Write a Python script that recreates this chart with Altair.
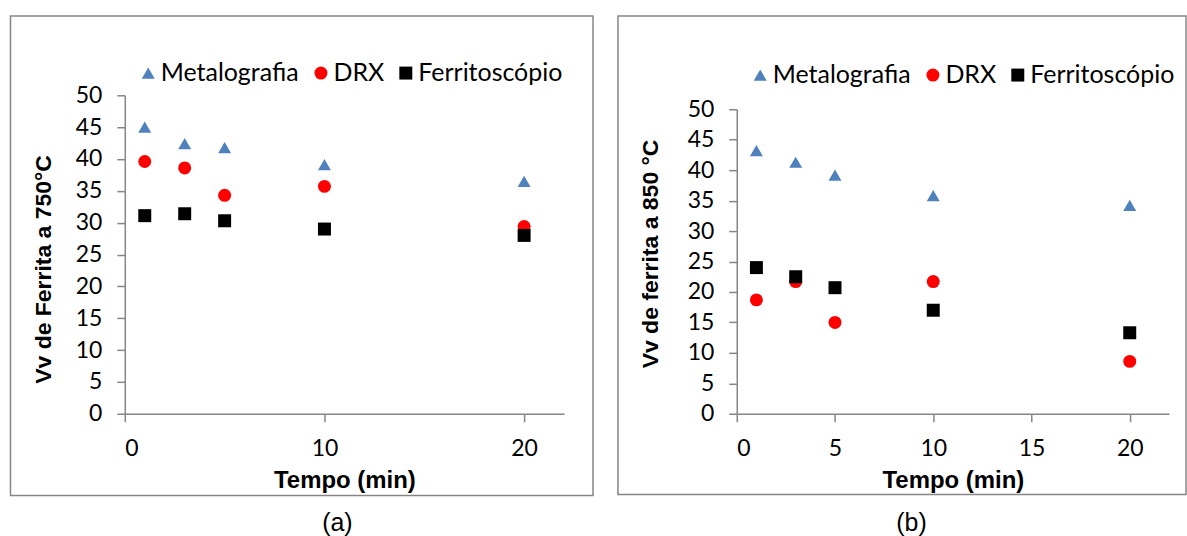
import altair as alt
import pandas as pd

# ---- data ----
times = [1, 3, 5, 10, 20]
series_names = ["Metalografia", "DRX", "Ferritoscópio"]

left_metalografia = [45.0, 42.4, 41.8, 39.1, 36.5]
left_drx = [39.6, 38.6, 34.3, 35.7, 29.4]
left_ferritoscopio = [31.1, 31.4, 30.3, 29.0, 28.0]

right_metalografia = [43.2, 41.3, 39.2, 35.8, 34.2]
right_drx = [18.7, 21.7, 15.0, 21.7, 8.6]
right_ferritoscopio = [24.0, 22.5, 20.7, 17.0, 13.3]

left_xticks = [0, 10, 20]
right_xticks = [0, 5, 10, 15, 20]
yticks = [0, 5, 10, 15, 20, 25, 30, 35, 40, 45, 50]

COLORS = ["#4F81BD", "#FF0000", "#000000"]
SHAPES = ["triangle-up", "circle", "square"]
GRAY = "#868686"
CAL = "Lato"
ARIAL = "Liberation Sans"


def long_df(metal, drx, ferr):
    rows = []
    for name, vals in zip(series_names, [metal, drx, ferr]):
        for t, v in zip(times, vals):
            rows.append({"t": t, "v": v, "serie": name})
    return pd.DataFrame(rows)


def panel(df, width, height, ytop, xticks, ytitle, leg_x, leg_y, frame,
          ytitle_x, ytitle_y, caption, cap_x, cap_y):
    legend = alt.Legend(
        orient="none", legendX=leg_x, legendY=leg_y, direction="horizontal",
        title=None, labelFont=CAL, labelFontSize=25, labelColor="#000000",
        symbolSize=169, symbolStrokeWidth=0, labelOffset=0, columnPadding=9,
        padding=0,
    )
    pts = alt.Chart(df).mark_point(filled=True, opacity=1, size=169).encode(
        x=alt.X("t:Q",
                scale=alt.Scale(domain=[0, 22], nice=False),
                axis=alt.Axis(values=xticks, title="Tempo (min)",
                              titleX=width / 2, titleY=67,
                              titleAlign="center", titleBaseline="middle",
                              titleFontSize=24, labelPadding=16)),
        y=alt.Y("v:Q",
                scale=alt.Scale(domain=[0, 50], nice=False,
                                range=[height, ytop]),
                axis=alt.Axis(values=yticks, title=ytitle,
                              titleX=ytitle_x, titleY=ytitle_y,
                              titleAngle=-90, titleAlign="center",
                              titleBaseline="middle", labelPadding=15)),
        color=alt.Color("serie:N",
                        scale=alt.Scale(domain=series_names, range=COLORS),
                        legend=legend),
        shape=alt.Shape("serie:N",
                        scale=alt.Scale(domain=series_names, range=SHAPES),
                        legend=legend),
    )
    fx1, fx2, fy1, fy2 = frame
    box = alt.Chart(pd.DataFrame({"k": [0]})).mark_rect(
        fillOpacity=0, stroke=GRAY, strokeWidth=1.5
    ).encode(x=alt.value(fx1), x2=alt.value(fx2),
             y=alt.value(fy1), y2=alt.value(fy2))
    cap = alt.Chart(pd.DataFrame({"k": [0]})).mark_text(
        text=caption, font=ARIAL, fontSize=25, color="#000000",
        align="center", baseline="middle"
    ).encode(x=alt.value(cap_x), y=alt.value(cap_y))
    return alt.layer(box, pts, cap).properties(width=width, height=height)


left = panel(
    long_df(left_metalografia, left_drx, left_ferritoscopio),
    440, 319, 0, left_xticks, "Vv de Ferrita a 750°C",
    11, -35, (-114.5, 469, -79.5, 401), -81, 174,
    "(a)", 213, 428,
)
right = panel(
    long_df(right_metalografia, right_drx, right_ferritoscopio),
    433, 319, 14, right_xticks, "Vv de ferrita a 850 °C",
    11, -33, (-119, 450, -79.5, 400), -86, 158.5,
    "(b)", 175, 428,
)

chart = alt.hconcat(left, right, spacing=23).resolve_scale(
    x="independent", y="independent", color="independent", shape="independent"
).resolve_legend(
    color="independent", shape="independent"
).properties(
    padding={"left": 9, "top": 14, "right": 0, "bottom": 0}
).configure_view(
    stroke=None
).configure_axis(
    domainColor=GRAY, domainWidth=1.5, tickColor=GRAY, tickWidth=1.5,
    tickSize=8, grid=False, labelFont=CAL, labelFontSize=23,
    labelColor="#000000", titleFont=ARIAL, titleFontSize=23,
    titleFontWeight="bold", titleColor="#000000",
)

chart.save("out.html", embed_options={"renderer": "svg", "actions": False})
